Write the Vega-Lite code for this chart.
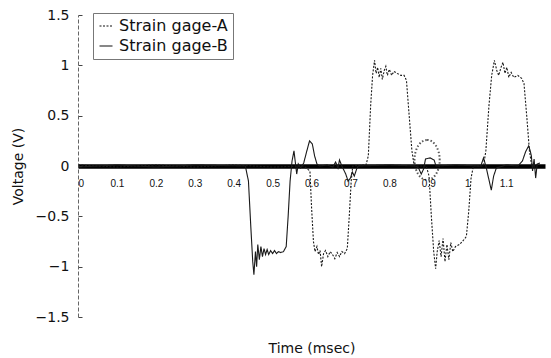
{
  "$schema": "https://vega.github.io/schema/vega-lite/v6.json",
  "width": 467,
  "height": 302,
  "autosize": {"type": "none"},
  "padding": {"left": 78, "top": 15, "right": 6, "bottom": 41},
  "background": "white",
  "config": {
    "view": {"stroke": null},
    "font": "DejaVu Sans",
    "axis": {"grid": false, "labelFont": "DejaVu Sans", "titleFont": "DejaVu Sans", "titleFontWeight": "normal", "labelColor": "#111", "titleColor": "#111"}
  },
  "datasets": {
    "gages": [
      {"t": 0, "v": 0.01, "s": "Strain gage-A"},
      {"t": 0.1, "v": -0.01, "s": "Strain gage-A"},
      {"t": 0.2, "v": 0.01, "s": "Strain gage-A"},
      {"t": 0.3, "v": -0.01, "s": "Strain gage-A"},
      {"t": 0.4, "v": 0.01, "s": "Strain gage-A"},
      {"t": 0.5, "v": -0.01, "s": "Strain gage-A"},
      {"t": 0.58, "v": 0.0, "s": "Strain gage-A"},
      {"t": 0.596, "v": -0.05, "s": "Strain gage-A"},
      {"t": 0.6, "v": -0.4, "s": "Strain gage-A"},
      {"t": 0.605, "v": -0.75, "s": "Strain gage-A"},
      {"t": 0.609, "v": -0.85, "s": "Strain gage-A"},
      {"t": 0.614, "v": -0.8, "s": "Strain gage-A"},
      {"t": 0.618, "v": -0.88, "s": "Strain gage-A"},
      {"t": 0.622, "v": -0.84, "s": "Strain gage-A"},
      {"t": 0.626, "v": -1.0, "s": "Strain gage-A"},
      {"t": 0.631, "v": -0.87, "s": "Strain gage-A"},
      {"t": 0.636, "v": -0.84, "s": "Strain gage-A"},
      {"t": 0.642, "v": -0.9, "s": "Strain gage-A"},
      {"t": 0.648, "v": -0.85, "s": "Strain gage-A"},
      {"t": 0.654, "v": -0.88, "s": "Strain gage-A"},
      {"t": 0.66, "v": -0.92, "s": "Strain gage-A"},
      {"t": 0.666, "v": -0.86, "s": "Strain gage-A"},
      {"t": 0.672, "v": -0.9, "s": "Strain gage-A"},
      {"t": 0.678, "v": -0.85, "s": "Strain gage-A"},
      {"t": 0.685, "v": -0.87, "s": "Strain gage-A"},
      {"t": 0.692, "v": -0.82, "s": "Strain gage-A"},
      {"t": 0.697, "v": -0.5, "s": "Strain gage-A"},
      {"t": 0.702, "v": -0.15, "s": "Strain gage-A"},
      {"t": 0.706, "v": 0.0, "s": "Strain gage-A"},
      {"t": 0.74, "v": 0.01, "s": "Strain gage-A"},
      {"t": 0.746, "v": 0.1, "s": "Strain gage-A"},
      {"t": 0.752, "v": 0.6, "s": "Strain gage-A"},
      {"t": 0.757, "v": 0.9, "s": "Strain gage-A"},
      {"t": 0.762, "v": 1.05, "s": "Strain gage-A"},
      {"t": 0.766, "v": 0.92, "s": "Strain gage-A"},
      {"t": 0.77, "v": 0.98, "s": "Strain gage-A"},
      {"t": 0.774, "v": 0.88, "s": "Strain gage-A"},
      {"t": 0.778, "v": 0.97, "s": "Strain gage-A"},
      {"t": 0.782, "v": 0.86, "s": "Strain gage-A"},
      {"t": 0.787, "v": 0.95, "s": "Strain gage-A"},
      {"t": 0.791, "v": 0.99, "s": "Strain gage-A"},
      {"t": 0.795, "v": 0.9, "s": "Strain gage-A"},
      {"t": 0.8, "v": 0.96, "s": "Strain gage-A"},
      {"t": 0.806, "v": 0.9, "s": "Strain gage-A"},
      {"t": 0.812, "v": 0.94, "s": "Strain gage-A"},
      {"t": 0.82, "v": 0.92, "s": "Strain gage-A"},
      {"t": 0.83, "v": 0.9, "s": "Strain gage-A"},
      {"t": 0.838, "v": 0.9, "s": "Strain gage-A"},
      {"t": 0.844, "v": 0.85, "s": "Strain gage-A"},
      {"t": 0.851, "v": 0.5, "s": "Strain gage-A"},
      {"t": 0.858, "v": 0.15, "s": "Strain gage-A"},
      {"t": 0.864, "v": 0.0, "s": "Strain gage-A"},
      {"t": 0.895, "v": 0.0, "s": "Strain gage-A"},
      {"t": 0.902, "v": -0.1, "s": "Strain gage-A"},
      {"t": 0.908, "v": -0.5, "s": "Strain gage-A"},
      {"t": 0.914, "v": -0.85, "s": "Strain gage-A"},
      {"t": 0.919, "v": -1.02, "s": "Strain gage-A"},
      {"t": 0.923, "v": -0.85, "s": "Strain gage-A"},
      {"t": 0.928, "v": -0.74, "s": "Strain gage-A"},
      {"t": 0.933, "v": -0.9, "s": "Strain gage-A"},
      {"t": 0.938, "v": -0.72, "s": "Strain gage-A"},
      {"t": 0.943, "v": -0.95, "s": "Strain gage-A"},
      {"t": 0.948, "v": -0.78, "s": "Strain gage-A"},
      {"t": 0.953, "v": -0.93, "s": "Strain gage-A"},
      {"t": 0.958, "v": -0.76, "s": "Strain gage-A"},
      {"t": 0.963, "v": -0.85, "s": "Strain gage-A"},
      {"t": 0.97, "v": -0.8, "s": "Strain gage-A"},
      {"t": 0.98, "v": -0.78, "s": "Strain gage-A"},
      {"t": 0.99, "v": -0.74, "s": "Strain gage-A"},
      {"t": 0.998, "v": -0.7, "s": "Strain gage-A"},
      {"t": 1.004, "v": -0.45, "s": "Strain gage-A"},
      {"t": 1.01, "v": -0.12, "s": "Strain gage-A"},
      {"t": 1.016, "v": 0.0, "s": "Strain gage-A"},
      {"t": 1.042, "v": 0.0, "s": "Strain gage-A"},
      {"t": 1.048, "v": 0.15, "s": "Strain gage-A"},
      {"t": 1.056, "v": 0.6, "s": "Strain gage-A"},
      {"t": 1.063, "v": 0.9, "s": "Strain gage-A"},
      {"t": 1.07, "v": 1.05, "s": "Strain gage-A"},
      {"t": 1.076, "v": 0.95, "s": "Strain gage-A"},
      {"t": 1.081, "v": 0.9, "s": "Strain gage-A"},
      {"t": 1.087, "v": 0.98, "s": "Strain gage-A"},
      {"t": 1.092, "v": 1.03, "s": "Strain gage-A"},
      {"t": 1.097, "v": 0.92, "s": "Strain gage-A"},
      {"t": 1.102, "v": 0.98, "s": "Strain gage-A"},
      {"t": 1.107, "v": 0.88, "s": "Strain gage-A"},
      {"t": 1.113, "v": 0.93, "s": "Strain gage-A"},
      {"t": 1.12, "v": 0.88, "s": "Strain gage-A"},
      {"t": 1.13, "v": 0.9, "s": "Strain gage-A"},
      {"t": 1.14, "v": 0.87, "s": "Strain gage-A"},
      {"t": 1.146, "v": 0.82, "s": "Strain gage-A"},
      {"t": 1.153, "v": 0.5, "s": "Strain gage-A"},
      {"t": 1.16, "v": 0.15, "s": "Strain gage-A"},
      {"t": 1.166, "v": 0.0, "s": "Strain gage-A"},
      {"t": 1.187, "v": 0.02, "s": "Strain gage-A"},
      {"t": 0, "v": -0.01, "s": "Strain gage-B"},
      {"t": 0.1, "v": 0.01, "s": "Strain gage-B"},
      {"t": 0.2, "v": -0.01, "s": "Strain gage-B"},
      {"t": 0.3, "v": 0.01, "s": "Strain gage-B"},
      {"t": 0.43, "v": 0.0, "s": "Strain gage-B"},
      {"t": 0.438, "v": -0.15, "s": "Strain gage-B"},
      {"t": 0.444, "v": -0.6, "s": "Strain gage-B"},
      {"t": 0.449, "v": -0.95, "s": "Strain gage-B"},
      {"t": 0.452, "v": -1.08, "s": "Strain gage-B"},
      {"t": 0.456, "v": -0.85, "s": "Strain gage-B"},
      {"t": 0.459, "v": -1.0, "s": "Strain gage-B"},
      {"t": 0.462, "v": -0.78, "s": "Strain gage-B"},
      {"t": 0.466, "v": -0.93, "s": "Strain gage-B"},
      {"t": 0.47, "v": -0.8, "s": "Strain gage-B"},
      {"t": 0.474, "v": -0.9, "s": "Strain gage-B"},
      {"t": 0.478, "v": -0.82, "s": "Strain gage-B"},
      {"t": 0.482, "v": -0.88, "s": "Strain gage-B"},
      {"t": 0.486, "v": -0.83, "s": "Strain gage-B"},
      {"t": 0.49, "v": -0.88, "s": "Strain gage-B"},
      {"t": 0.495, "v": -0.84, "s": "Strain gage-B"},
      {"t": 0.5, "v": -0.87, "s": "Strain gage-B"},
      {"t": 0.505, "v": -0.84, "s": "Strain gage-B"},
      {"t": 0.51, "v": -0.87, "s": "Strain gage-B"},
      {"t": 0.515, "v": -0.85, "s": "Strain gage-B"},
      {"t": 0.52, "v": -0.86, "s": "Strain gage-B"},
      {"t": 0.528, "v": -0.85, "s": "Strain gage-B"},
      {"t": 0.535, "v": -0.8, "s": "Strain gage-B"},
      {"t": 0.54, "v": -0.5, "s": "Strain gage-B"},
      {"t": 0.545, "v": -0.15, "s": "Strain gage-B"},
      {"t": 0.55, "v": 0.05, "s": "Strain gage-B"},
      {"t": 0.555, "v": 0.15, "s": "Strain gage-B"},
      {"t": 0.558, "v": 0.05, "s": "Strain gage-B"},
      {"t": 0.562, "v": -0.08, "s": "Strain gage-B"},
      {"t": 0.566, "v": 0.02, "s": "Strain gage-B"},
      {"t": 0.572, "v": -0.02, "s": "Strain gage-B"},
      {"t": 0.58, "v": 0.03, "s": "Strain gage-B"},
      {"t": 0.588, "v": 0.15, "s": "Strain gage-B"},
      {"t": 0.595, "v": 0.25, "s": "Strain gage-B"},
      {"t": 0.602, "v": 0.22, "s": "Strain gage-B"},
      {"t": 0.608, "v": 0.1, "s": "Strain gage-B"},
      {"t": 0.614, "v": 0.02, "s": "Strain gage-B"},
      {"t": 0.62, "v": 0.0, "s": "Strain gage-B"},
      {"t": 0.64, "v": 0.01, "s": "Strain gage-B"},
      {"t": 0.655, "v": -0.01, "s": "Strain gage-B"},
      {"t": 0.662, "v": 0.04, "s": "Strain gage-B"},
      {"t": 0.668, "v": -0.02, "s": "Strain gage-B"},
      {"t": 0.672, "v": 0.06, "s": "Strain gage-B"},
      {"t": 0.678, "v": 0.0, "s": "Strain gage-B"},
      {"t": 0.688, "v": -0.08, "s": "Strain gage-B"},
      {"t": 0.694, "v": -0.15, "s": "Strain gage-B"},
      {"t": 0.7, "v": -0.12, "s": "Strain gage-B"},
      {"t": 0.705, "v": -0.06, "s": "Strain gage-B"},
      {"t": 0.71, "v": -0.1, "s": "Strain gage-B"},
      {"t": 0.716, "v": -0.03, "s": "Strain gage-B"},
      {"t": 0.72, "v": 0.0, "s": "Strain gage-B"},
      {"t": 0.8, "v": 0.01, "s": "Strain gage-B"},
      {"t": 0.868, "v": 0.0, "s": "Strain gage-B"},
      {"t": 0.875, "v": -0.02, "s": "Strain gage-B"},
      {"t": 0.882, "v": -0.08, "s": "Strain gage-B"},
      {"t": 0.888, "v": -0.03, "s": "Strain gage-B"},
      {"t": 0.893, "v": 0.07, "s": "Strain gage-B"},
      {"t": 0.905, "v": 0.08, "s": "Strain gage-B"},
      {"t": 0.915, "v": 0.06, "s": "Strain gage-B"},
      {"t": 0.92, "v": 0.0, "s": "Strain gage-B"},
      {"t": 0.97, "v": 0.01, "s": "Strain gage-B"},
      {"t": 1.035, "v": 0.0, "s": "Strain gage-B"},
      {"t": 1.042, "v": 0.08, "s": "Strain gage-B"},
      {"t": 1.048, "v": 0.0, "s": "Strain gage-B"},
      {"t": 1.055, "v": -0.12, "s": "Strain gage-B"},
      {"t": 1.062, "v": -0.24, "s": "Strain gage-B"},
      {"t": 1.068, "v": -0.1, "s": "Strain gage-B"},
      {"t": 1.075, "v": -0.02, "s": "Strain gage-B"},
      {"t": 1.1, "v": 0.01, "s": "Strain gage-B"},
      {"t": 1.13, "v": 0.0, "s": "Strain gage-B"},
      {"t": 1.142, "v": 0.05, "s": "Strain gage-B"},
      {"t": 1.15, "v": 0.14, "s": "Strain gage-B"},
      {"t": 1.158, "v": 0.2, "s": "Strain gage-B"},
      {"t": 1.162, "v": 0.15, "s": "Strain gage-B"},
      {"t": 1.165, "v": 0.1, "s": "Strain gage-B"},
      {"t": 1.168, "v": -0.05, "s": "Strain gage-B"},
      {"t": 1.172, "v": 0.07, "s": "Strain gage-B"},
      {"t": 1.176, "v": -0.12, "s": "Strain gage-B"},
      {"t": 1.18, "v": 0.02, "s": "Strain gage-B"},
      {"t": 1.187, "v": 0.03, "s": "Strain gage-B"}
    ],
    "mark": [{"t": 0.897, "v": 0.06}]
  },
  "layer": [
    {
      "data": {"name": "gages"},
      "mark": {"type": "line", "strokeWidth": 1.1, "color": "#1a1a1a", "clip": true},
      "encoding": {
        "x": {
          "field": "t", "type": "quantitative",
          "scale": {"domain": [0, 1.2], "nice": false},
          "axis": {
            "orient": "bottom", "offset": -151,
            "values": [0, 0.1, 0.2, 0.3, 0.4, 0.5, 0.6, 0.7, 0.8, 0.9, 1, 1.1],
            "format": ".1~f",
            "domainColor": "#000", "domainWidth": 4.5,
            "ticks": false, "labelFont": "Liberation Sans", "labelFontSize": 10, "labelPadding": 12,
            "title": "Time (msec)", "titleFontSize": 14, "titleY": 175
          }
        },
        "y": {
          "field": "v", "type": "quantitative",
          "scale": {"domain": [-1.5, 1.5], "nice": false},
          "axis": {
            "values": [-1.5, -1, -0.5, 0, 0.5, 1, 1.5],
            "format": ".2~f",
            "domainColor": "#666", "domainDash": [4, 2], "domainWidth": 1,
            "tickSize": -4, "tickColor": "#444",
            "labelFontSize": 14, "labelPadding": 13,
            "title": "Voltage (V)", "titleFontSize": 14, "titlePadding": 10
          }
        },
        "strokeDash": {
          "field": "s", "type": "nominal",
          "scale": {"domain": ["Strain gage-A", "Strain gage-B"], "range": [[2, 1.5], [1, 0]]},
          "legend": {
            "title": null, "orient": "none", "legendX": 15, "legendY": -2,
            "symbolType": "stroke", "symbolSize": 169, "symbolStrokeWidth": 1.2, "symbolStrokeColor": "#111",
            "labelFontSize": 16, "labelFont": "DejaVu Sans", "labelColor": "#111", "labelOffset": 5,
            "rowPadding": 4, "padding": 5,
            "strokeColor": "#777", "fillColor": "white"
          }
        },
        "detail": {"field": "s"}
      }
    },
    {
      "data": {"name": "mark"},
      "mark": {
        "type": "point", "filled": false, "color": "#111", "strokeWidth": 2, "strokeDash": [1.5, 2],
        "shape": "M0,-1 A0.63,1 0 1,1 0,1 A0.63,1 0 1,1 0,-1 Z", "size": 1600
      },
      "encoding": {
        "x": {"field": "t", "type": "quantitative"},
        "y": {"field": "v", "type": "quantitative"}
      }
    }
  ]
}
